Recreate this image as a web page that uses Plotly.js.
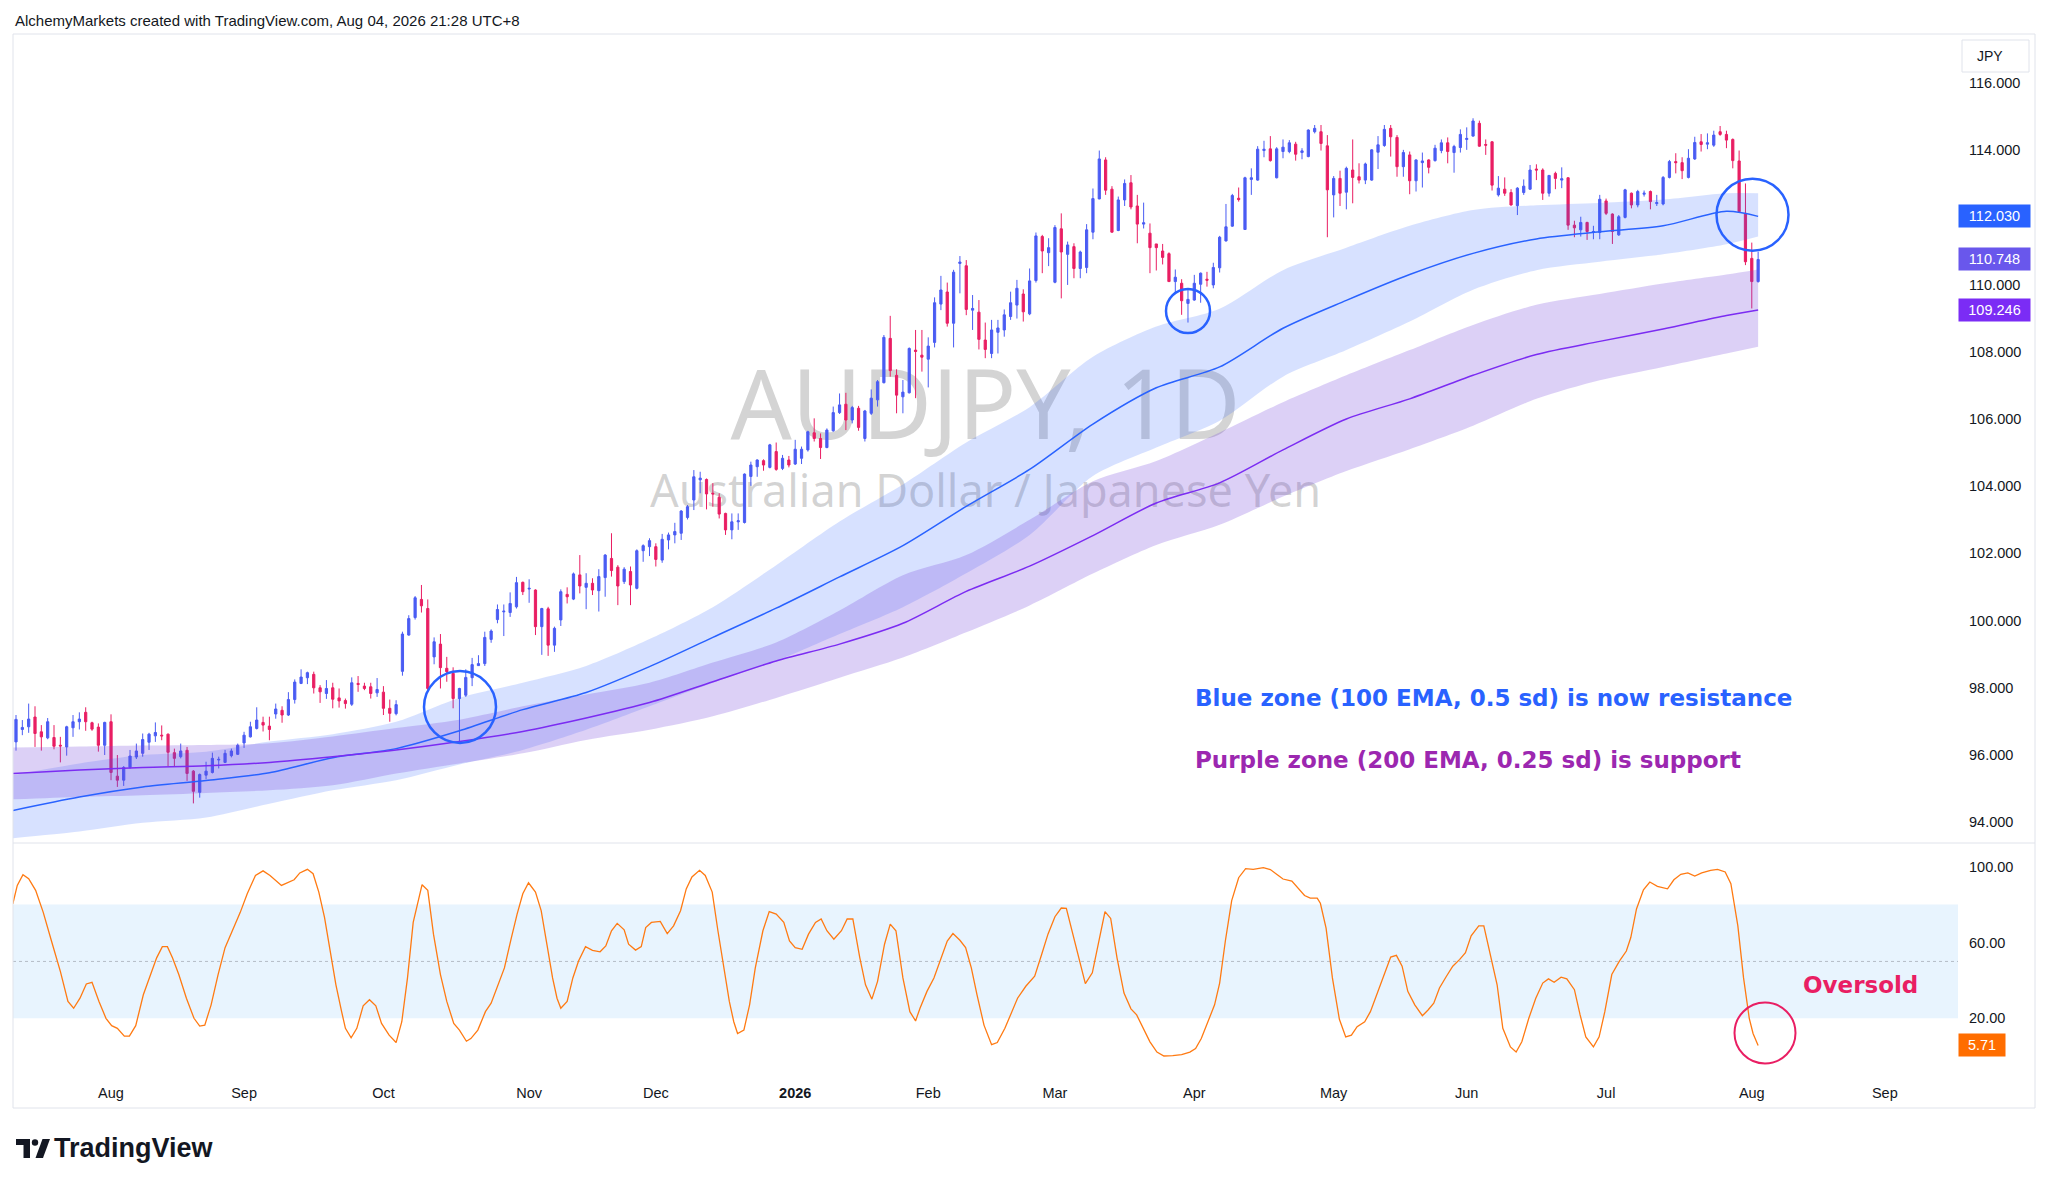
<!DOCTYPE html>
<html>
<head>
<meta charset="utf-8">
<script src="https://cdn.plot.ly/plotly-3.0.1.min.js"></script>
<style>
html,body{margin:0;padding:0;background:#ffffff;}
#chart{width:2048px;height:1185px;}
</style>
</head>
<body>
<div id="chart"></div>
<script>
// ---------------- DATA ----------------
const startDate = '2025-07-11';
const holidays = ['2025-12-25', '2026-01-01'];
const monthNames = ['Jan','Feb','Mar','Apr','May','Jun','Jul','Aug','Sep','Oct','Nov','Dec'];

const barOpen = [
96.39,96.76,96.84,97.13,96.69,96.51,96.52,96.29,96.24,96.81,
96.99,97.27,96.96,96.83,96.29,96.99,95.37,95.25,95.63,95.94,
96.05,96.38,96.57,96.59,96.62,96.07,95.95,96.14,95.52,94.89,
95.40,95.48,95.85,95.78,95.98,96.02,96.36,96.54,96.79,96.97,
96.86,97.22,97.33,97.19,97.65,98.13,98.30,98.40,98.00,97.83,
98.00,97.70,97.62,97.51,98.13,98.05,98.03,97.85,97.87,97.39,
97.23,98.49,99.57,100.09,100.63,100.36,98.92,99.30,98.58,98.43,
97.68,97.78,98.30,98.66,98.72,99.44,100.03,100.26,100.24,100.41,
101.14,100.94,100.91,99.82,100.35,99.27,100.02,100.78,100.64,101.36,
100.99,101.11,100.89,101.28,101.85,101.59,101.16,101.46,100.96,102.08,
102.20,102.20,101.80,102.40,102.55,102.60,103.07,103.59,104.19,104.20,
103.79,103.67,103.19,102.70,102.94,102.92,104.29,104.58,104.76,104.56,
105.03,104.53,104.78,104.66,104.83,105.08,105.59,105.42,105.15,105.65,
106.19,106.44,105.97,106.32,105.42,106.17,106.57,107.08,108.40,107.30,
106.66,106.78,108.05,107.90,107.78,108.28,109.42,109.78,108.85,110.63,
110.56,109.24,109.18,108.35,107.95,108.58,108.65,109.05,109.39,109.72,
109.13,110.12,111.43,110.95,110.07,111.66,110.90,111.13,110.48,110.51,
111.56,112.55,113.71,112.84,111.61,112.52,113.03,112.34,111.80,111.53,
111.21,111.00,110.92,110.09,110.04,109.44,109.54,110.01,110.16,109.99,
110.50,111.30,111.74,112.57,111.64,113.13,113.11,113.99,114.04,113.18,
113.96,113.96,114.18,113.93,113.81,114.55,114.55,114.13,112.67,113.16,
112.75,113.41,113.21,113.11,113.11,113.94,114.14,114.65,114.38,113.51,
113.86,113.09,113.63,113.71,113.69,113.99,114.22,113.93,114.08,114.32,
114.42,114.80,114.17,114.25,112.67,112.84,112.74,112.35,112.74,112.84,
113.44,113.41,112.72,113.31,113.11,113.18,111.77,111.63,111.85,111.55,
111.55,112.49,112.10,111.48,112.00,112.72,112.37,112.69,112.77,112.41,
112.40,113.19,113.66,113.63,113.19,113.74,114.25,114.18,114.15,114.55,
114.47,114.32,113.68,112.12,110.78,110.09];

const barHigh = [
97.19,97.04,97.53,97.45,96.89,97.10,96.89,96.54,96.87,97.19,
97.27,97.42,96.99,96.94,96.99,97.21,96.00,95.67,96.15,96.34,
96.64,96.66,96.97,96.88,96.64,96.19,96.34,96.24,95.55,95.45,
95.80,96.07,95.95,96.15,96.19,96.34,96.69,96.99,97.42,97.14,
97.14,97.53,97.45,97.87,98.25,98.55,98.48,98.48,98.08,98.23,
98.15,97.98,97.68,98.31,98.35,98.15,98.15,98.29,98.05,97.65,
97.63,99.67,100.16,100.73,101.06,100.63,99.50,99.60,98.92,98.61,
98.00,98.55,98.89,98.97,99.67,99.74,100.48,100.48,100.84,101.30,
101.16,101.23,100.93,100.38,100.41,99.82,100.93,100.99,101.43,101.95,
101.41,101.26,101.53,101.98,102.60,101.65,101.59,101.61,102.12,102.27,
102.45,102.30,102.58,102.62,102.91,103.29,103.44,104.48,104.43,104.23,
104.09,103.79,103.21,103.19,103.19,104.38,104.73,104.80,104.80,105.26,
105.30,104.93,104.90,105.38,105.18,105.65,106.02,105.57,105.72,106.37,
106.76,106.78,106.39,106.39,106.27,106.88,107.16,108.50,109.07,107.48,
107.16,108.13,108.65,108.65,108.43,109.62,110.26,110.06,110.44,110.85,
110.73,109.69,109.54,108.87,108.95,108.95,109.26,109.79,110.14,109.86,
110.48,111.55,111.48,111.38,111.77,112.12,111.28,111.23,111.01,111.80,
112.86,113.99,113.79,112.93,112.62,113.13,113.26,112.67,112.44,111.82,
111.21,111.21,110.96,110.45,110.16,109.89,110.29,110.36,110.38,110.65,
111.45,112.40,112.70,112.89,113.21,113.46,114.12,114.28,114.42,114.09,
114.32,114.30,114.25,114.06,114.62,114.75,114.75,114.45,113.23,113.39,
113.51,114.32,113.61,113.63,114.03,114.42,114.75,114.75,114.45,114.01,
113.96,113.73,113.93,113.73,114.16,114.32,114.38,114.16,114.62,114.68,
114.95,114.88,114.32,114.27,113.23,113.19,112.84,112.90,113.13,113.56,
113.58,113.46,113.26,113.36,113.49,113.19,111.90,112.02,111.87,111.75,
112.67,112.56,112.12,112.07,112.85,112.74,112.82,112.80,112.80,112.67,
113.23,113.71,113.91,113.79,114.03,114.40,114.48,114.50,114.58,114.72,
114.58,114.35,113.99,113.01,111.25,110.98];

const barLow = [
96.13,96.59,96.66,96.24,96.13,96.47,96.17,95.78,95.98,96.54,
96.76,96.72,96.72,96.10,96.00,95.25,95.05,95.08,95.59,95.88,
95.95,96.15,96.39,96.44,95.67,95.67,95.90,95.23,94.56,94.73,
95.28,95.45,95.60,95.76,95.93,96.00,96.21,96.52,96.76,96.70,
96.44,97.08,96.96,97.16,97.53,98.11,98.11,97.83,97.55,97.67,
97.39,97.41,97.38,97.46,97.88,97.93,97.68,97.73,97.19,96.99,
97.18,98.36,99.55,100.03,100.24,97.88,98.70,97.98,98.18,97.39,
96.39,97.73,98.05,98.65,98.65,99.34,99.92,99.54,100.11,100.36,
100.76,100.53,99.57,98.98,98.95,99.07,99.84,100.51,100.61,100.81,
100.34,100.76,100.27,100.71,101.31,100.46,101.09,100.46,100.93,101.75,
101.92,101.61,101.72,102.12,102.30,102.40,103.01,103.29,103.79,103.31,
103.39,103.04,102.55,102.42,102.70,102.89,104.01,104.28,104.46,104.53,
104.46,104.48,104.56,104.63,104.66,105.03,105.33,104.81,105.13,105.62,
106.15,105.67,105.87,105.65,105.33,106.12,106.37,107.06,107.26,106.17,
106.17,106.76,106.62,107.41,106.94,108.13,109.24,108.75,108.13,109.74,
109.09,108.65,108.07,107.81,107.81,107.95,108.45,108.95,108.99,108.90,
109.09,110.06,110.34,110.55,110.04,109.59,109.99,110.19,110.19,110.34,
111.35,112.54,112.67,111.55,111.59,112.34,112.24,111.23,111.67,110.34,
110.42,110.60,110.09,109.76,109.10,108.87,109.52,109.46,109.94,109.89,
110.36,111.28,111.72,112.47,111.63,112.67,113.09,113.79,113.66,113.16,
113.76,113.91,113.69,113.73,113.79,114.50,113.99,111.41,112.00,112.34,
112.24,112.42,113.01,112.99,113.09,113.44,114.10,113.81,113.21,113.21,
112.69,112.77,112.89,113.31,113.66,113.91,113.61,113.33,113.93,114.01,
114.40,114.10,113.86,112.80,112.62,112.64,112.35,112.07,112.67,112.82,
113.11,112.52,112.62,112.84,112.87,111.63,111.41,111.43,111.33,111.35,
111.35,112.07,111.21,111.45,111.97,112.27,112.30,112.62,112.24,112.34,
112.36,113.16,113.31,113.14,113.16,113.71,113.96,114.03,114.10,114.43,
114.06,113.46,112.15,110.58,109.29,110.06];

const barClose = [
97.06,96.82,97.07,96.64,96.54,96.99,96.26,96.27,96.84,96.99,
97.07,96.99,96.77,96.29,96.97,95.48,95.25,95.63,95.97,96.12,
96.46,96.62,96.67,96.57,96.08,95.90,96.12,95.45,94.92,95.42,
95.52,95.90,95.87,96.05,96.12,96.29,96.59,96.84,97.04,96.89,
96.76,97.37,97.19,97.65,98.17,98.32,98.45,98.00,97.88,97.98,
97.66,97.61,97.53,98.15,98.10,97.98,97.83,97.95,97.39,97.24,
97.50,99.60,100.06,100.68,100.44,97.98,99.37,98.60,98.48,97.68,
97.98,98.31,98.69,98.72,99.50,99.69,100.33,100.28,100.51,101.13,
100.86,100.96,99.82,100.36,99.27,99.77,100.86,100.71,101.39,101.03,
101.11,100.91,101.31,101.95,101.49,101.03,101.53,101.06,102.08,102.23,
102.38,101.82,102.42,102.55,102.65,103.26,103.39,104.28,104.24,103.77,
103.77,103.17,102.70,102.94,102.97,104.36,104.63,104.78,104.63,105.23,
104.50,104.83,104.63,105.10,105.10,105.62,105.42,105.15,105.67,106.19,
106.42,105.97,106.34,105.75,106.24,106.62,107.11,108.43,107.44,106.71,
106.80,108.10,108.01,107.84,108.17,109.46,109.84,108.85,110.37,110.67,
109.26,109.29,108.37,108.07,108.65,108.71,109.10,109.46,109.89,109.19,
110.11,111.45,111.00,111.10,111.70,110.97,111.18,110.48,110.97,111.63,
112.56,113.74,112.81,111.56,112.52,113.01,112.31,111.80,111.84,111.10,
111.10,110.81,110.09,110.22,109.52,109.56,110.04,110.34,110.13,110.51,
111.41,111.72,112.65,112.53,113.18,113.18,114.03,114.03,113.69,114.04,
114.09,114.22,113.88,113.98,114.60,114.65,114.20,112.82,113.16,112.72,
113.46,113.19,113.11,113.59,114.01,114.16,114.62,114.40,113.51,113.93,
113.09,113.71,113.68,113.49,114.06,114.22,113.96,114.11,114.47,114.35,
114.87,114.12,114.15,112.96,112.87,112.72,112.37,112.87,112.93,113.41,
113.41,112.72,113.25,113.16,113.15,111.77,111.69,111.85,111.58,111.58,
112.54,112.12,111.58,112.02,112.82,112.37,112.77,112.72,112.47,112.44,
113.19,113.66,113.63,113.39,113.76,114.23,114.17,114.22,114.45,114.47,
114.30,113.69,112.17,110.68,110.09,110.748];

// EMA lines and zones, read at these bar positions
const emaBars  = [-0.5,10,20,30,40,50,60,70,80,90,100,110,120,130,140,150,160,170,180,190,200,210,220,230,240,250,260,270,275];
const ema100   = [94.35,94.75,95.05,95.24,95.47,95.92,96.19,96.72,97.35,97.86,98.63,99.50,100.37,101.30,102.23,103.40,104.50,105.85,106.93,107.55,108.70,109.53,110.30,110.93,111.36,111.57,111.75,112.18,112.03];
const ema100Up = [95.40,95.75,96.00,96.10,96.40,96.62,96.99,97.70,98.15,98.65,99.45,100.40,101.65,102.95,104.05,105.30,106.35,107.85,108.75,109.28,110.43,111.10,111.75,112.22,112.36,112.43,112.53,112.72,112.72];
const ema100Lo = [93.52,93.72,93.98,94.14,94.55,94.95,95.25,95.72,96.15,96.75,97.45,98.15,98.80,99.60,100.40,101.41,102.55,104.30,105.15,105.95,107.26,108.05,108.90,109.85,110.43,110.68,110.90,111.20,111.43];
const ema200   = [95.45,95.55,95.63,95.68,95.78,95.95,96.15,96.40,96.70,97.10,97.56,98.18,98.80,99.30,99.92,100.87,101.62,102.53,103.50,104.10,105.08,106.00,106.60,107.30,107.92,108.31,108.68,109.08,109.246];
const ema200Up = [96.22,96.25,96.28,96.30,96.35,96.55,96.80,97.05,97.45,97.80,98.15,98.75,99.35,100.30,101.35,101.95,103.00,104.15,104.75,105.60,106.50,107.30,108.05,108.80,109.40,109.72,110.03,110.30,110.45];
const ema200Lo = [94.68,94.75,94.80,94.87,94.95,95.10,95.45,95.75,96.05,96.45,96.75,97.15,97.70,98.30,98.90,99.65,100.45,101.40,102.25,102.85,103.69,104.45,105.10,105.80,106.60,107.15,107.55,107.95,108.15];

// oscillator readings: [bar position, value]
const oscReadings = [
[-0.5,80.4],[0.2,90.1],[1.1,95.8],[2.0,93.7],[3.1,87.5],[4.3,75.9],[5.6,60.8],[7.0,44.8],[8.2,28.9],[9.1,25.3],
[10.1,30.6],[11.1,38.1],[12.0,39.0],[13.1,28.9],[14.2,20.0],[15.1,16.1],[16.0,14.7],[17.1,10.6],[17.9,10.6],[18.9,16.1],
[20.1,32.4],[21.2,43.1],[22.2,51.9],[23.1,57.8],[23.9,57.8],[24.7,51.9],[25.7,43.1],[26.9,30.6],[28.1,20.0],[29.0,15.9],
[29.8,16.4],[30.8,27.1],[31.9,43.1],[33.0,57.3],[34.2,66.2],[35.4,75.9],[36.5,85.7],[37.8,95.4],[39.0,97.8],[40.1,95.4],
[41.9,90.1],[42.8,91.4],[43.9,93.1],[44.8,96.7],[46.0,98.6],[46.9,96.3],[47.8,86.6],[48.7,73.3],[49.6,55.5],[50.5,37.7],
[51.4,23.5],[52.0,14.7],[52.9,9.7],[53.8,14.7],[54.8,26.6],[55.8,29.8],[56.8,26.6],[57.7,17.3],[58.9,11.1],[60.0,7.2],
[60.9,18.2],[61.8,41.3],[62.7,70.6],[64.1,90.5],[65.0,87.5],[65.9,64.4],[67.0,43.1],[68.0,28.9],[69.1,17.3],[70.0,13.8],
[71.1,7.9],[71.8,9.3],[72.9,13.8],[74.1,23.5],[75.0,28.0],[75.9,36.0],[77.1,46.6],[78.2,62.6],[79.1,75.0],[80.0,85.7],
[80.9,91.5],[82.0,86.6],[82.9,76.8],[83.8,59.1],[84.7,41.3],[85.4,30.6],[86.0,25.3],[87.0,28.9],[87.9,41.3],[88.8,50.2],
[89.9,57.8],[91.0,55.9],[92.2,55.1],[93.1,58.2],[94.0,66.2],[94.9,70.1],[96.0,66.7],[96.7,59.1],[97.8,56.0],[98.7,57.8],
[99.4,67.9],[100.3,70.6],[101.7,71.1],[102.8,64.7],[103.8,68.8],[104.9,76.8],[105.8,88.3],[106.7,94.6],[107.9,98.1],[108.8,95.4],
[109.9,86.6],[110.8,66.2],[111.7,48.4],[112.6,28.9],[113.3,18.2],[113.9,12.0],[114.9,13.8],[115.8,27.1],[116.7,46.6],[117.9,66.2],
[118.9,76.3],[120.0,75.0],[121.2,70.6],[122.1,60.8],[123.0,57.3],[124.1,56.4],[125.1,64.4],[126.2,70.6],[127.1,72.4],[128.0,66.2],
[129.1,61.7],[130.3,66.2],[131.2,72.4],[132.1,72.4],[133.2,51.9],[134.1,37.7],[135.1,30.1],[136.0,39.5],[137.1,59.1],[138.0,69.7],
[138.9,66.2],[140.0,41.3],[141.1,23.5],[142.0,18.6],[142.7,25.3],[143.8,34.2],[144.9,41.3],[146.0,51.9],[147.0,60.8],[147.9,64.7],
[149.0,61.2],[149.9,57.3],[150.8,46.6],[151.7,32.4],[152.8,16.4],[154.0,6.1],[154.9,7.2],[156.1,14.7],[157.2,23.5],[158.1,30.6],
[159.4,36.9],[160.8,42.2],[161.9,53.7],[162.9,64.4],[164.0,73.6],[165.0,78.2],[165.8,78.0],[166.7,66.2],[167.8,51.9],[168.8,38.3],
[169.9,44.0],[170.8,59.1],[171.9,76.3],[172.8,72.7],[173.8,51.9],[174.9,33.3],[176.0,25.0],[176.9,21.8],[177.9,14.7],[179.0,7.6],
[180.1,2.2],[181.2,0.1],[182.6,0.3],[184.0,0.8],[185.3,2.2],[186.2,4.0],[187.1,9.3],[188.2,18.2],[189.2,27.1],[190.0,38.6],
[190.9,60.8],[191.9,82.1],[193.0,94.2],[194.1,99.0],[195.3,98.6],[196.9,99.5],[198.0,98.5],[199.1,95.8],[200.0,93.5],[201.4,92.4],
[202.3,89.2],[203.4,84.8],[204.3,83.4],[205.4,83.4],[205.9,80.7],[206.8,67.6],[207.8,41.3],[208.9,19.5],[209.9,10.2],[210.8,11.1],
[211.7,15.6],[212.9,18.2],[213.8,23.5],[214.7,31.5],[215.9,43.1],[217.0,52.3],[217.9,53.2],[218.8,47.5],[219.7,34.2],[220.8,27.1],
[222.0,21.4],[222.9,24.4],[223.8,28.0],[224.7,36.0],[225.8,42.2],[226.8,47.5],[227.9,51.1],[228.8,54.6],[229.7,63.5],[230.9,68.8],
[231.7,68.8],[232.6,55.5],[233.8,37.7],[234.7,14.7],[235.9,4.9],[236.8,2.2],[237.7,7.6],[238.8,20.0],[239.9,30.6],[241.0,38.6],
[241.9,40.8],[242.8,39.0],[243.9,41.7],[244.8,40.8],[246.0,35.1],[246.9,21.8],[247.8,10.2],[249.0,4.9],[249.9,10.2],[250.8,23.5],
[251.9,43.1],[253.1,50.2],[254.2,55.5],[254.9,62.6],[255.8,77.7],[256.9,87.8],[257.9,91.9],[259.1,89.6],[260.7,88.3],[261.7,93.1],
[262.8,96.0],[263.9,96.7],[265.0,95.1],[266.1,96.7],[267.5,98.1],[268.6,98.6],[269.8,97.2],[270.7,91.0],[271.8,68.8],[272.7,41.3],
[273.6,20.0],[274.2,12.0],[275.0,5.71]];

const priceTicks = [94,96,98,100,102,104,106,108,110,112,114,116];
const oscTicks = [20,60,100];

// ---------------- GEOMETRY / STYLE ----------------
const W = 2048, H = 1185;
const L = 13, R = 1958, T = 34, B = 1077, SEP = 843, FRAME_R = 2035, FRAME_B = 1108;
const BAR0_PX = 16, BAR_PX = 6.335;
const pxToBar = px => (px - BAR0_PX) / BAR_PX;
const pxToPrice = py => 116 - (py - 83) / 33.6;
const pxToOsc = py => 100 - (py - 866.7) / 1.895;
const paperX = px => (px - L) / (R - L);
const paperY = py => (B - py) / (B - T);

const UP = '#4A5CF3', DOWN = '#E91E63';
const BLUE = '#2962FF', PURPLE_LINE = '#7B2CF2';

// trading days (weekdays minus holidays) for the time scale
function tradingDays(n) {
  const out = [];
  const d = new Date(startDate + 'T00:00:00Z');
  while (out.length < n) {
    const wd = d.getUTCDay();
    const s = d.toISOString().slice(0, 10);
    if (wd !== 0 && wd !== 6 && holidays.indexOf(s) < 0) out.push(s);
    d.setUTCDate(d.getUTCDate() + 1);
  }
  return out;
}
const xRange = [pxToBar(L), pxToBar(R)];
const days = tradingDays(Math.ceil(xRange[1]) + 2);
const tickVals = [], tickText = [];
for (let i = 1; i < days.length; i++) {
  if (days[i].slice(5, 7) !== days[i - 1].slice(5, 7) && i <= xRange[1]) {
    const m = parseInt(days[i].slice(5, 7), 10) - 1;
    tickVals.push(i);
    tickText.push(m === 0 ? '<b>' + days[i].slice(0, 4) + '</b>' : monthNames[m]);
  }
}
const barIdx = barClose.map((_, i) => i);
const oscX = oscReadings.map(p => p[0]);
const oscY = oscReadings.map(p => p[1]);

const mainRange = [pxToPrice(SEP), pxToPrice(T)];
const oscRange = [pxToOsc(B), pxToOsc(SEP)];

const traces = [
  {type:'scatter', mode:'text', x:[pxToBar((L + R) / 2)], y:[pxToPrice(415)], text:['AUDJPY, 1D'],
   textfont:{family:'Noto Sans', size:96, color:'rgba(100,100,100,0.28)'}, textposition:'middle center',
   xaxis:'x', yaxis:'y', hoverinfo:'skip', cliponaxis:false},
  {type:'scatter', mode:'text', x:[pxToBar((L + R) / 2)], y:[pxToPrice(496)], text:['Australian Dollar / Japanese Yen'],
   textfont:{family:'Noto Sans', size:45, color:'rgba(100,100,100,0.28)'}, textposition:'middle center',
   xaxis:'x', yaxis:'y', hoverinfo:'skip', cliponaxis:false},
  {type:'candlestick', x:barIdx, open:barOpen, high:barHigh, low:barLow, close:barClose,
   xaxis:'x', yaxis:'y2', whiskerwidth:0, hoverinfo:'skip',
   increasing:{line:{color:UP, width:1}, fillcolor:UP},
   decreasing:{line:{color:DOWN, width:1}, fillcolor:DOWN}},
  {type:'scatter', mode:'lines', x:emaBars, y:ema100Lo, line:{width:0, shape:'spline', smoothing:0.8}, xaxis:'x', yaxis:'y2', hoverinfo:'skip'},
  {type:'scatter', mode:'lines', x:emaBars, y:ema100Up, line:{width:0, shape:'spline', smoothing:0.8}, fill:'tonexty',
   fillcolor:'rgba(41,98,255,0.19)', xaxis:'x', yaxis:'y2', hoverinfo:'skip'},
  {type:'scatter', mode:'lines', x:emaBars, y:ema200Lo, line:{width:0, shape:'spline', smoothing:0.8}, xaxis:'x', yaxis:'y2', hoverinfo:'skip'},
  {type:'scatter', mode:'lines', x:emaBars, y:ema200Up, line:{width:0, shape:'spline', smoothing:0.8}, fill:'tonexty',
   fillcolor:'rgba(115,67,219,0.25)', xaxis:'x', yaxis:'y2', hoverinfo:'skip'},
  {type:'scatter', mode:'lines', x:emaBars, y:ema100, line:{color:BLUE, width:1.5, shape:'spline', smoothing:0.8}, xaxis:'x', yaxis:'y2', hoverinfo:'skip'},
  {type:'scatter', mode:'lines', x:emaBars, y:ema200, line:{color:PURPLE_LINE, width:1.5, shape:'spline', smoothing:0.8}, xaxis:'x', yaxis:'y2', hoverinfo:'skip'},
  {type:'scatter', mode:'lines', x:oscX, y:oscY, line:{color:'#FF7A12', width:1.3}, xaxis:'x', yaxis:'y3', hoverinfo:'skip'}
];

function circle(bar, val, r, yref, color, w) {
  return {type:'circle', xref:'x', yref:yref, xsizemode:'pixel', ysizemode:'pixel',
          xanchor:bar, yanchor:val, x0:-r, x1:r, y0:-r, y1:r,
          line:{color:color, width:w}, fillcolor:'rgba(0,0,0,0)', layer:'above'};
}
function rectPx(x0, y0, x1, y1, fill, lineColor) {
  return {type:'rect', xref:'paper', yref:'paper', x0:paperX(x0), x1:paperX(x1), y0:paperY(y1), y1:paperY(y0),
          fillcolor:fill, line:{color:lineColor || 'rgba(0,0,0,0)', width:lineColor ? 1 : 0}, layer:'above'};
}
function pathPx(pts, fill) {
  const d = pts.map((p, k) => (k ? 'L' : 'M') + paperX(p[0]).toFixed(5) + ',' + paperY(p[1]).toFixed(5)).join('') + 'Z';
  return {type:'path', xref:'paper', yref:'paper', path:d, fillcolor:fill, line:{width:0}, layer:'above'};
}

const shapes = [
  {type:'rect', xref:'paper', yref:'y3', x0:0, x1:1, y0:20, y1:80, fillcolor:'rgba(33,150,243,0.1)', line:{width:0}, layer:'below'},
  {type:'line', xref:'paper', yref:'y3', x0:0, x1:1, y0:50, y1:50, line:{color:'rgba(120,123,134,0.45)', width:1, dash:'dot'}, layer:'below'},
  rectPx(L, T, FRAME_R, FRAME_B, 'rgba(0,0,0,0)', '#E0E3EB'),
  {type:'line', xref:'paper', yref:'paper', x0:paperX(L), x1:paperX(FRAME_R), y0:paperY(SEP), y1:paperY(SEP), line:{color:'#E0E3EB', width:1}},
  circle(pxToBar(460), pxToPrice(707), 36, 'y2', BLUE, 2.5),
  circle(pxToBar(1188), pxToPrice(311), 22, 'y2', BLUE, 2.5),
  circle(pxToBar(1752.5), pxToPrice(214.7), 36, 'y2', BLUE, 2.5),
  circle(pxToBar(1765), pxToOsc(1033), 30.5, 'y3', DOWN, 2),
  rectPx(1962, 40, 2029, 72, 'rgba(0,0,0,0)', '#E0E3EB'),
  // TradingView logo
  rectPx(16, 1139, 30, 1145, '#131722'),
  rectPx(23.5, 1139, 30, 1158, '#131722'),
  {type:'circle', xref:'paper', yref:'paper', x0:paperX(31.8), x1:paperX(38.2), y0:paperY(1145.7), y1:paperY(1139.3), fillcolor:'#131722', line:{width:0}},
  pathPx([[35.5,1158],[42.5,1139],[50,1139],[43,1158]], '#131722')
];

function priceLabel(val, yref, bg, digits) {
  return {xref:'paper', yref:yref, x:paperX(R), y:val, xanchor:'left', yanchor:'middle',
          text:val.toFixed(digits), showarrow:false, bgcolor:bg, width:digits === 3 ? 71 : 46, height:22,
          borderpad:0, align:'center', font:{family:'Liberation Sans', size:14.5, color:'#ffffff'}};
}

const annotations = [
  {xref:'paper', yref:'paper', x:paperX(13), y:paperY(20), xanchor:'left', yanchor:'middle', showarrow:false,
   text:'AlchemyMarkets created with TradingView.com, Aug 04, 2026 21:28 UTC+8',
   font:{family:'Liberation Sans', size:15, color:'#131722'}},
  {xref:'paper', yref:'paper', x:paperX(52), y:paperY(1148), xanchor:'left', yanchor:'middle', showarrow:false,
   text:'<b>TradingView</b>', font:{family:'Liberation Sans', size:27, color:'#131722'}},
  {xref:'paper', yref:'paper', x:paperX(1990), y:paperY(56), xanchor:'center', yanchor:'middle', showarrow:false,
   text:'JPY', font:{family:'Liberation Sans', size:14, color:'#131722'}},
  {xref:'x', yref:'y2', x:pxToBar(1193), y:pxToPrice(698), xanchor:'left', yanchor:'middle', showarrow:false,
   text:'<b>Blue zone (100 EMA, 0.5 sd) is now resistance</b>', font:{family:'DejaVu Sans', size:23, color:BLUE}},
  {xref:'x', yref:'y2', x:pxToBar(1193), y:pxToPrice(759.5), xanchor:'left', yanchor:'middle', showarrow:false,
   text:'<b>Purple zone (200 EMA, 0.25 sd) is support</b>', font:{family:'DejaVu Sans', size:23, color:'#9C27B0'}},
  {xref:'x', yref:'y3', x:pxToBar(1860), y:pxToOsc(985.5), xanchor:'center', yanchor:'middle', showarrow:false,
   text:'<b>Oversold</b>', font:{family:'DejaVu Sans', size:23, color:DOWN}},
  priceLabel(ema100[ema100.length - 1], 'y2', BLUE, 3),
  priceLabel(barClose[barClose.length - 1], 'y2', '#6957EC', 3),
  priceLabel(ema200[ema200.length - 1], 'y2', '#7B2CF5', 3),
  priceLabel(oscY[oscY.length - 1], 'y3', '#FF6D00', 2)
];

const tickFont = {family:'Liberation Sans', size:14.5, color:'#131722'};
const layout = {
  width:W, height:H,
  margin:{l:L, r:W - R, t:T, b:H - B, pad:0},
  paper_bgcolor:'#ffffff', plot_bgcolor:'rgba(0,0,0,0)',
  showlegend:false, hovermode:false, boxgap:0.5,
  font:{family:'Liberation Sans', size:14.5, color:'#131722'},
  xaxis:{range:xRange, anchor:'y3', tickmode:'array', tickvals:tickVals, ticktext:tickText,
         showgrid:false, zeroline:false, showline:false, ticks:'', tickfont:tickFont,
         rangeslider:{visible:false}, fixedrange:true, ticklabelstandoff:5, automargin:false},
  yaxis:{domain:[paperY(SEP), 1], range:mainRange, anchor:'x', side:'right', tickmode:'array',
         tickvals:priceTicks, tickformat:'.3f', showgrid:false, zeroline:false, showline:false, ticks:'',
         tickfont:tickFont, ticklabelstandoff:10, fixedrange:true, automargin:false},
  yaxis2:{overlaying:'y', range:mainRange, anchor:'x', visible:false, fixedrange:true},
  yaxis3:{domain:[0, paperY(SEP)], range:oscRange, anchor:'x', side:'right', tickmode:'array',
          tickvals:oscTicks, tickformat:'.2f', showgrid:false, zeroline:false, showline:false, ticks:'',
          tickfont:tickFont, ticklabelstandoff:10, fixedrange:true, automargin:false},
  shapes:shapes,
  annotations:annotations
};

Plotly.newPlot('chart', traces, layout, {displayModeBar:false, staticPlot:true});
</script>
</body>
</html>
